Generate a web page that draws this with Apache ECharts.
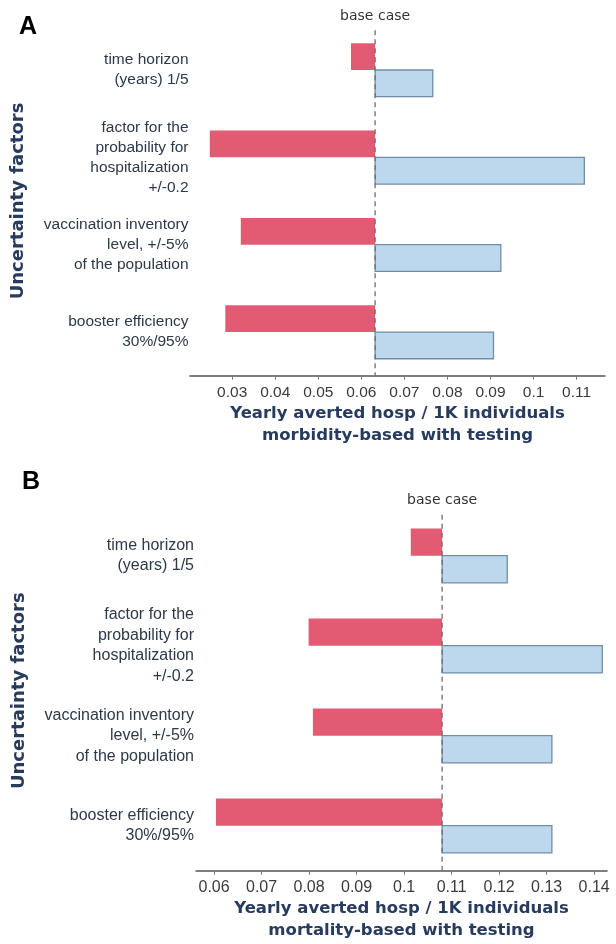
<!DOCTYPE html>
<html>
<head>
<meta charset="utf-8">
<title>Tornado diagrams – yearly averted hospitalizations</title>
<script src="https://cdn.jsdelivr.net/npm/echarts@6/dist/echarts.min.js"></script>
<style>
  html, body { margin: 0; padding: 0; background: #ffffff; }
  #chart { width: 616px; height: 944px; }
</style>
</head>
<body>
<div id="chart"></div>
<script>
// Uncertainty factors (top to bottom)
const factors = [
  'time horizon\n(years) 1/5',
  'factor for the\nprobability for\nhospitalization\n+/-0.2',
  'vaccination inventory\nlevel, +/-5%\nof the population',
  'booster efficiency\n30%/95%'
];

// Panel A: morbidity-based with testing
const morbBase = 0.0632;
const morbLow  = [0.0576, 0.0248, 0.0320, 0.0284];
const morbHigh = [0.0766, 0.1118, 0.0924, 0.0907];
const morbTicks = [0.03, 0.04, 0.05, 0.06, 0.07, 0.08, 0.09, 0.1, 0.11];

// Panel B: mortality-based with testing
const mortBase = 0.1080;
const mortLow  = [0.1014, 0.0799, 0.0808, 0.0604];
const mortHigh = [0.1217, 0.1417, 0.1311, 0.1311];
const mortTicks = [0.06, 0.07, 0.08, 0.09, 0.1, 0.11, 0.12, 0.13, 0.14];

const RED = '#E35A73';
const BLUE_FILL = '#BDD8EC';
const BLUE_EDGE = '#6F8DAB';
const NAVY = '#263B5E';
const LABEL = '#2C3949';

// Bar spanning from the base case to a low/high value; low bars sit in the
// upper half of the category band, high bars in the lower half.
function tornadoBar(upper, frac, fill, stroke) {
  return function (params, api) {
    const idx = api.value(0);
    const v = api.value(1);
    const base = api.value(2);
    const pv = api.coord([v, idx]);
    const pb = api.coord([base, idx]);
    const band = api.size([0, 1])[1];
    const h = band * frac;
    const x = Math.min(pv[0], pb[0]);
    const w = Math.abs(pv[0] - pb[0]);
    const y = upper ? pv[1] - h : pv[1];
    return {
      type: 'rect',
      shape: { x: x, y: y, width: w, height: h },
      style: { fill: fill, stroke: stroke || null, lineWidth: stroke ? 1.3 : 0 }
    };
  };
}

// Dashed base-case reference line with its caption
function baseLine(params, api) {
  const cs = params.coordSys;
  const x = api.coord([api.value(0), 0])[0];
  return {
    type: 'group',
    children: [
      {
        type: 'line',
        shape: { x1: x, y1: cs.y + 4, x2: x, y2: cs.y + cs.height },
        style: { stroke: '#6E6E6E', lineWidth: 1.3, lineDash: [5, 4] }
      },
      {
        type: 'text',
        style: {
          x: x, y: cs.y - 10, text: 'base case',
          align: 'center', verticalAlign: 'middle',
          fontFamily: 'DejaVu Sans', fontSize: 14, fill: '#333'
        }
      }
    ]
  };
}

function rows(values, base) {
  return values.map((v, i) => [i, v, base]);
}

function xAxisFor(gridIndex, min, max, ticks, title, fs) {
  return {
    type: 'value', gridIndex: gridIndex, min: min, max: max,
    splitLine: { show: false },
    axisLine: { show: true, lineStyle: { color: '#555', width: 1.5 } },
    axisTick: { show: true, length: 4, customValues: ticks, lineStyle: { color: '#777' } },
    axisLabel: {
      customValues: ticks, margin: 9,
      fontFamily: 'Liberation Sans', fontSize: fs, color: '#3A3A3A'
    },
    name: title, nameLocation: 'middle', nameGap: 27,
    nameTextStyle: {
      fontFamily: 'DejaVu Sans', fontWeight: 'bold', fontSize: 16.5,
      color: NAVY, lineHeight: 22
    }
  };
}

function yAxisFor(gridIndex, fs, lh, gap, margin) {
  return {
    type: 'category', gridIndex: gridIndex, data: factors, inverse: true,
    axisLine: { show: false }, axisTick: { show: false },
    axisLabel: {
      interval: 0, margin: margin, align: 'right',
      fontFamily: 'Liberation Sans', fontSize: fs, lineHeight: lh, color: LABEL
    },
    name: 'Uncertainty factors', nameLocation: 'middle', nameGap: gap,
    nameTextStyle: {
      fontFamily: 'DejaVu Sans', fontWeight: 'bold', fontSize: 18, color: NAVY
    }
  };
}

const chart = echarts.init(document.getElementById('chart'), null, { renderer: 'canvas' });

chart.setOption({
  animation: false,
  backgroundColor: '#ffffff',
  title: [
    { text: 'A', left: 14, top: 10,
      textStyle: { fontFamily: 'Liberation Sans', fontWeight: 'bold', fontSize: 25, color: '#000' } },
    { text: 'B', left: 17, top: 465,
      textStyle: { fontFamily: 'Liberation Sans', fontWeight: 'bold', fontSize: 25, color: '#000' } }
  ],
  grid: [
    { left: 190, right: 11, top: 26.3, height: 349.4, outerBoundsMode: 'none' },
    { left: 196, right: 9, top: 510.7, height: 360, outerBoundsMode: 'none' }
  ],
  xAxis: [
    xAxisFor(0, 0.0202, 0.1166, morbTicks,
      'Yearly averted hosp / 1K individuals\nmorbidity-based with testing', 15.5),
    xAxisFor(1, 0.0562, 0.1427, mortTicks,
      'Yearly averted hosp / 1K individuals\nmortality-based with testing', 16)
  ],
  yAxis: [
    yAxisFor(0, 15.5, 20, 163, 1.5),
    yAxisFor(1, 16, 20.6, 168, 2)
  ],
  series: [
    { type: 'custom', xAxisIndex: 0, yAxisIndex: 0, encode: { x: 1, y: 0 },
      renderItem: tornadoBar(true, 0.3057, RED), data: rows(morbLow, morbBase), z: 2 },
    { type: 'custom', xAxisIndex: 0, yAxisIndex: 0, encode: { x: 1, y: 0 },
      renderItem: tornadoBar(false, 0.3057, BLUE_FILL, BLUE_EDGE), data: rows(morbHigh, morbBase), z: 2 },
    { type: 'custom', xAxisIndex: 0, yAxisIndex: 0, encode: { x: 0 },
      renderItem: baseLine, data: [[morbBase]], z: 5, clip: false },

    { type: 'custom', xAxisIndex: 1, yAxisIndex: 1, encode: { x: 1, y: 0 },
      renderItem: tornadoBar(true, 0.303, RED), data: rows(mortLow, mortBase), z: 2 },
    { type: 'custom', xAxisIndex: 1, yAxisIndex: 1, encode: { x: 1, y: 0 },
      renderItem: tornadoBar(false, 0.303, BLUE_FILL, BLUE_EDGE), data: rows(mortHigh, mortBase), z: 2 },
    { type: 'custom', xAxisIndex: 1, yAxisIndex: 1, encode: { x: 0 },
      renderItem: baseLine, data: [[mortBase]], z: 5, clip: false }
  ]
});
</script>
</body>
</html>
